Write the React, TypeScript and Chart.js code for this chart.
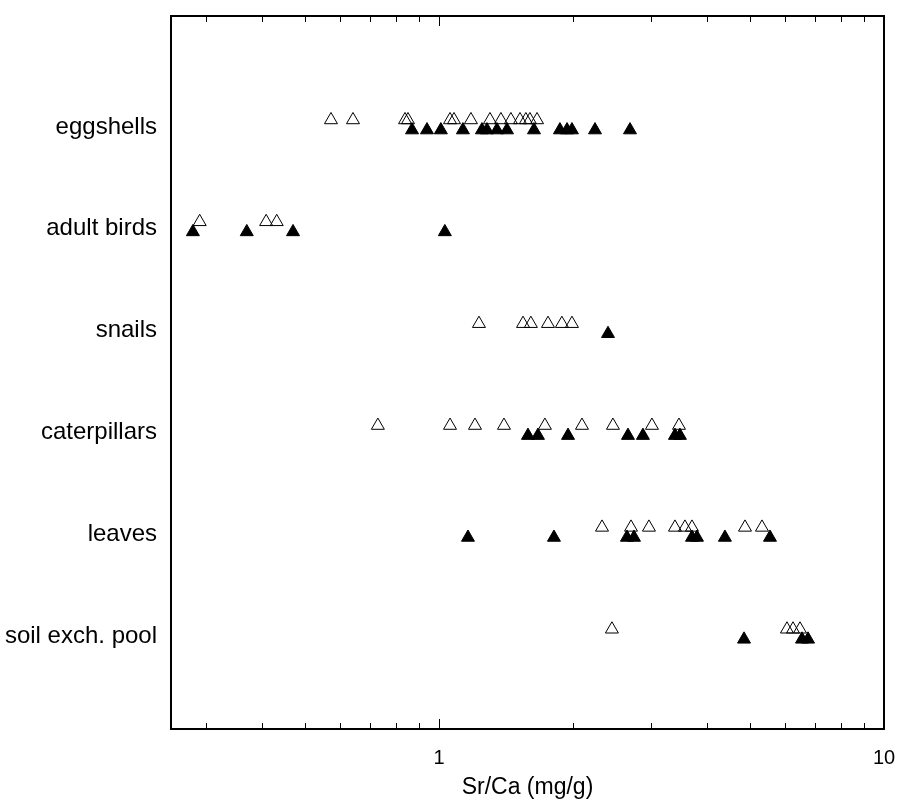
import React, { useEffect, useRef } from 'react';
import { Chart, registerables } from 'chart.js';

Chart.register(...registerables);

const categories = ['eggshells', 'adult birds', 'snails', 'caterpillars', 'leaves', 'soil exch. pool'];

// Open triangles (upper row of each category)
const eggshellsOpen = [0.572, 0.641, 0.839, 0.852, 1.059, 1.081, 1.18, 1.302, 1.378, 1.451, 1.521, 1.568, 1.601, 1.661];
const adultBirdsOpen = [0.29, 0.409, 0.432];
const snailsOpen = [1.23, 1.545, 1.609, 1.758, 1.889, 1.99];
const caterpillarsOpen = [0.729, 1.059, 1.205, 1.4, 1.73, 2.096, 2.46, 3.01, 3.462];
const leavesOpen = [2.325, 2.701, 2.964, 3.391, 3.571, 3.703, 4.872, 5.319];
const soilOpen = [2.447, 6.053, 6.245, 6.475];

// Filled triangles (lower row of each category)
const eggshellsFilled = [0.87, 0.94, 1.01, 1.132, 1.249, 1.282, 1.35, 1.422, 1.635, 1.87, 1.94, 1.99, 2.242, 2.687];
const adultBirdsFilled = [0.28, 0.37, 0.47, 1.031];
const snailsFilled = [2.398];
const caterpillarsFilled = [1.585, 1.669, 1.95, 2.659, 2.873, 3.391, 3.479];
const leavesFilled = [1.162, 1.813, 2.645, 2.743, 3.703, 3.8, 4.391, 5.544];
const soilFilled = [4.847, 6.543, 6.75];

const openSeries = [eggshellsOpen, adultBirdsOpen, snailsOpen, caterpillarsOpen, leavesOpen, soilOpen];
const filledSeries = [eggshellsFilled, adultBirdsFilled, snailsFilled, caterpillarsFilled, leavesFilled, soilFilled];

const xMin = 0.25;
const xMax = 10;
const xLabelTicks = [1, 10];
const xMinorTicks = [0.3, 0.4, 0.5, 0.6, 0.7, 0.8, 0.9, 1, 2, 3, 4, 5, 6, 7, 8, 9];
const xTitle = 'Sr/Ca (mg/g)';

const FONT = '"Liberation Sans", Arial, Helvetica, sans-serif';

const toPoints = (series: number[][], offset: number) =>
  series.flatMap((vals, i) => vals.map((v) => ({ x: v, y: i + 1 + offset })));

const framePlugin = {
  id: 'frameTicks',
  afterDatasetsDraw(chart: any) {
    const { ctx, chartArea } = chart;
    const xs = chart.scales.x;
    const { left, right, top, bottom } = chartArea;
    ctx.save();
    ctx.strokeStyle = '#000';
    ctx.lineWidth = 1;
    xMinorTicks.forEach((v) => {
      const px = Math.round(xs.getPixelForValue(v)) + 0.5;
      const len = v === 1 ? 10 : 6;
      ctx.beginPath();
      ctx.moveTo(px, bottom);
      ctx.lineTo(px, bottom - len);
      ctx.moveTo(px, top);
      ctx.lineTo(px, top + len);
      ctx.stroke();
    });
    ctx.lineWidth = 2;
    ctx.strokeRect(left, top, right - left, bottom - top);
    ctx.restore();
  },
};

export default function App() {
  const ref = useRef<HTMLCanvasElement>(null);

  useEffect(() => {
    document.body.style.margin = '0';
    const canvas = ref.current;
    if (!canvas) return;
    const chart = new Chart(canvas, {
      type: 'scatter',
      data: {
        datasets: [
          {
            label: 'open',
            data: toPoints(openSeries, -0.069),
            pointStyle: 'triangle',
            pointRadius: 7.5,
            pointHoverRadius: 7.5,
            backgroundColor: 'rgba(0,0,0,0)',
            borderColor: '#000',
            borderWidth: 1,
          },
          {
            label: 'filled',
            data: toPoints(filledSeries, 0.03),
            pointStyle: 'triangle',
            pointRadius: 7.5,
            pointHoverRadius: 7.5,
            backgroundColor: '#000',
            borderColor: '#000',
            borderWidth: 1,
          },
        ],
      },
      options: {
        responsive: false,
        animation: false,
        maintainAspectRatio: false,
        layout: { padding: { left: 0, right: 16, top: 16, bottom: 0 } },
        plugins: {
          legend: { display: false },
          tooltip: { enabled: false },
        },
        scales: {
          x: {
            type: 'logarithmic',
            min: xMin,
            max: xMax,
            grid: { display: false, drawTicks: false, tickLength: 0 },
            border: { display: false },
            afterBuildTicks: (scale: any) => {
              scale.ticks = xLabelTicks.map((v) => ({ value: v }));
            },
            afterFit: (scale: any) => {
              scale.height = 72;
              scale.paddingLeft = 0;
              scale.paddingRight = 0;
            },
            ticks: {
              autoSkip: false,
              maxRotation: 0,
              padding: 17,
              color: '#000',
              font: { family: FONT, size: 20 },
              callback: (v: any) => String(v),
            },
            title: {
              display: true,
              text: xTitle,
              color: '#000',
              font: { family: FONT, size: 23 },
              padding: { top: 0, bottom: 0 },
            },
          },
          y: {
            type: 'linear',
            reverse: true,
            min: -0.0897,
            max: 6.9103,
            grid: { display: false, drawTicks: false, tickLength: 0 },
            border: { display: false },
            afterBuildTicks: (scale: any) => {
              scale.ticks = categories.map((_, i) => ({ value: i + 1 }));
            },
            afterFit: (scale: any) => {
              scale.width = 171;
              scale.paddingTop = 0;
              scale.paddingBottom = 0;
            },
            ticks: {
              autoSkip: false,
              padding: 14,
              color: '#000',
              font: { family: FONT, size: 24 },
              callback: (v: any) => categories[Math.round(v) - 1] ?? '',
            },
          },
        },
      },
      plugins: [framePlugin],
    });
    return () => chart.destroy();
  }, []);

  return (
    <div style={{ width: 900, height: 801 }}>
      <canvas ref={ref} width={900} height={801} style={{ display: 'block' }} />
    </div>
  );
}
